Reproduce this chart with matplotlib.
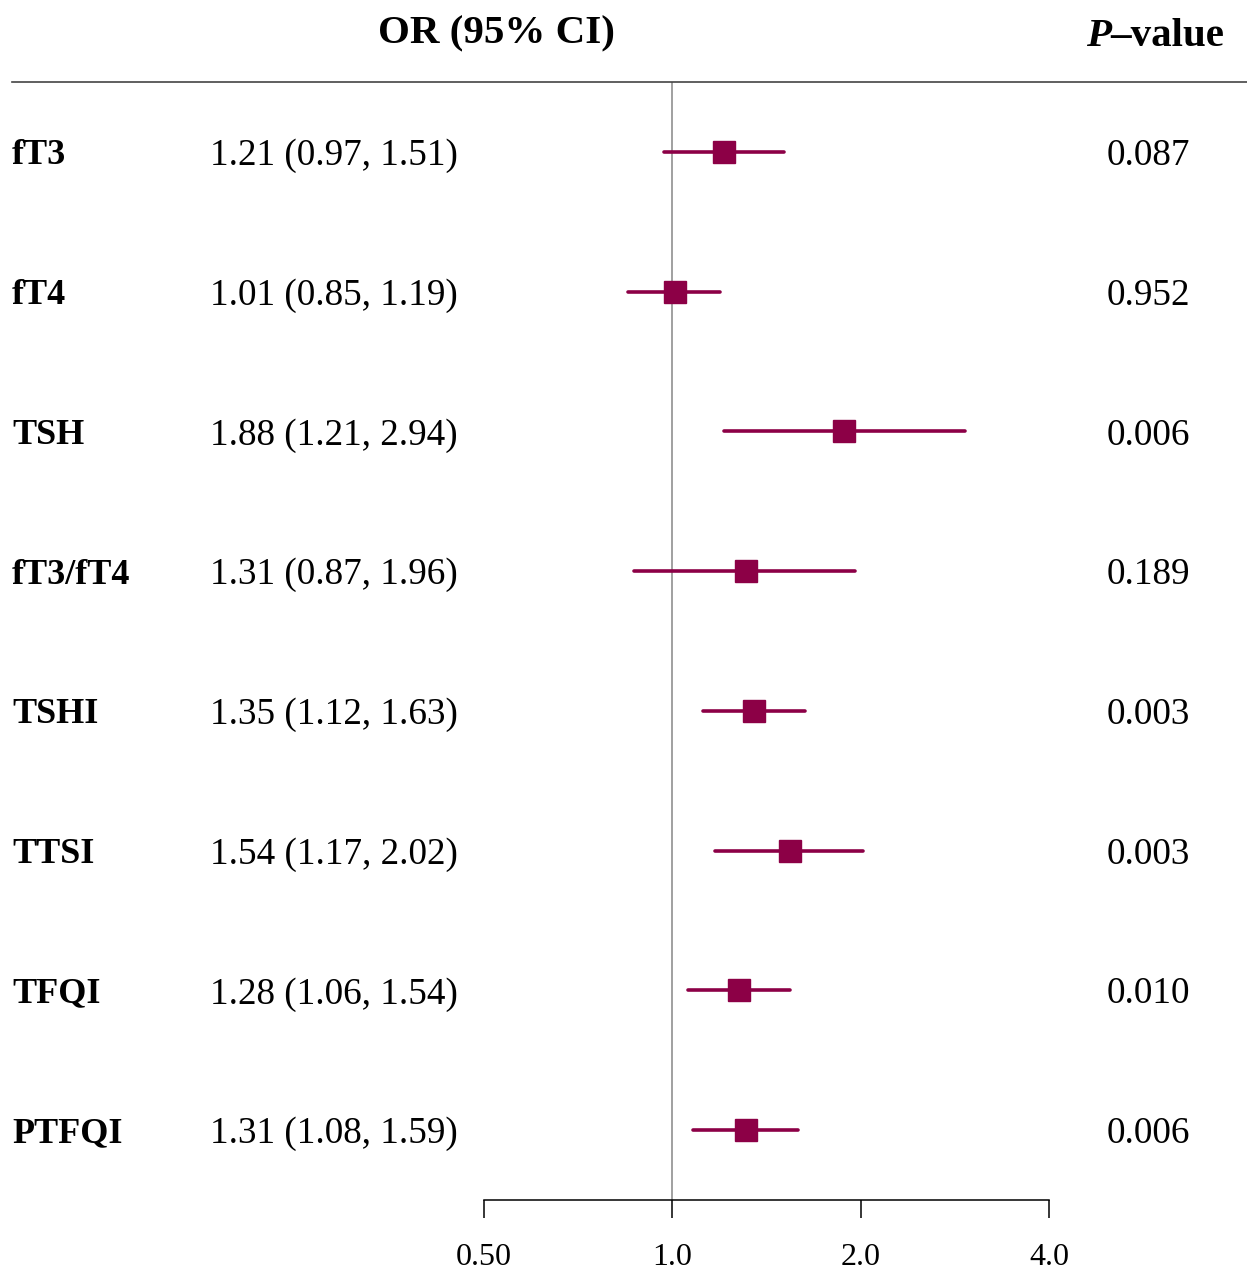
import matplotlib
matplotlib.use("Agg")
import matplotlib.pyplot as plt

labels = ["fT3", "fT4", "TSH", "fT3/fT4", "TSHI", "TTSI", "TFQI", "PTFQI"]
or_vals = [1.21, 1.01, 1.88, 1.31, 1.35, 1.54, 1.28, 1.31]
ci_low = [0.97, 0.85, 1.21, 0.87, 1.12, 1.17, 1.06, 1.08]
ci_high = [1.51, 1.19, 2.94, 1.96, 1.63, 2.02, 1.54, 1.59]
or_text = ["1.21 (0.97, 1.51)", "1.01 (0.85, 1.19)", "1.88 (1.21, 2.94)",
           "1.31 (0.87, 1.96)", "1.35 (1.12, 1.63)", "1.54 (1.17, 2.02)",
           "1.28 (1.06, 1.54)", "1.31 (1.08, 1.59)"]
p_text = ["0.087", "0.952", "0.006", "0.189", "0.003", "0.003", "0.010", "0.006"]
xticks = [0.5, 1.0, 2.0, 4.0]
xtick_labels = ["0.50", "1.0", "2.0", "4.0"]

plt.rcParams['font.family'] = ['Liberation Serif', 'DejaVu Serif']
W, H = 1247, 1275
fig = plt.figure(figsize=(W / 100, H / 100), dpi=100)

ax = fig.add_axes([484 / W, 1 - 1200 / H, (1049 - 484) / W, (1200 - 82) / H])
ax.set_xscale('log')
ax.set_xlim(0.5, 4.0)
n = len(labels)
ax.set_ylim(n - 0.5, -0.5)
color = '#8C0046'
ys = list(range(n))
ax.axvline(1.0, color='#999999', lw=1.3, zorder=1)
ax.hlines(ys, ci_low, ci_high, color=color, lw=2.6, capstyle='round', zorder=2)
ax.plot(or_vals, ys, 's', color=color, ms=16, zorder=3)

for s in ['top', 'right', 'left']:
    ax.spines[s].set_visible(False)
ax.spines['bottom'].set_linewidth(1.1)
ax.set_yticks([])
ax.set_xticks(xticks)
ax.set_xticklabels(xtick_labels, fontsize=23)
ax.minorticks_off()
ax.tick_params(axis='x', direction='out', length=13, width=1.1, pad=18)

# header line
fig.add_artist(plt.Line2D([12 / W, 1.0], [1 - 82 / H, 1 - 82 / H], color='#444444', lw=1.2))

fig.text(496 / W, 1 - 34 / H, "OR (95% CI)", ha='center', va='center',
         fontsize=29.5, fontweight='bold')

tv = fig.text(1224 / W, 1 - 37 / H, "\u2013value", ha='right', va='center', fontsize=29.5,
              fontweight='bold')
fig.canvas.draw()
bb = tv.get_window_extent(renderer=fig.canvas.get_renderer())
fig.text((bb.x0 + 1) / W, 1 - 37 / H, "P", ha='right', va='center', fontsize=29.5,
         fontweight='bold', fontstyle='italic')

for i in range(n):
    y = 1 - (156 + 139.7 * i) / H
    fig.text(12 / W, y, labels[i], ha='left', va='center', fontsize=26, fontweight='bold')
    fig.text(210 / W, y, or_text[i], ha='left', va='center', fontsize=26.7)
    fig.text(1107 / W, y, p_text[i], ha='left', va='center', fontsize=26.7)

fig.savefig("out.png", dpi=100)
